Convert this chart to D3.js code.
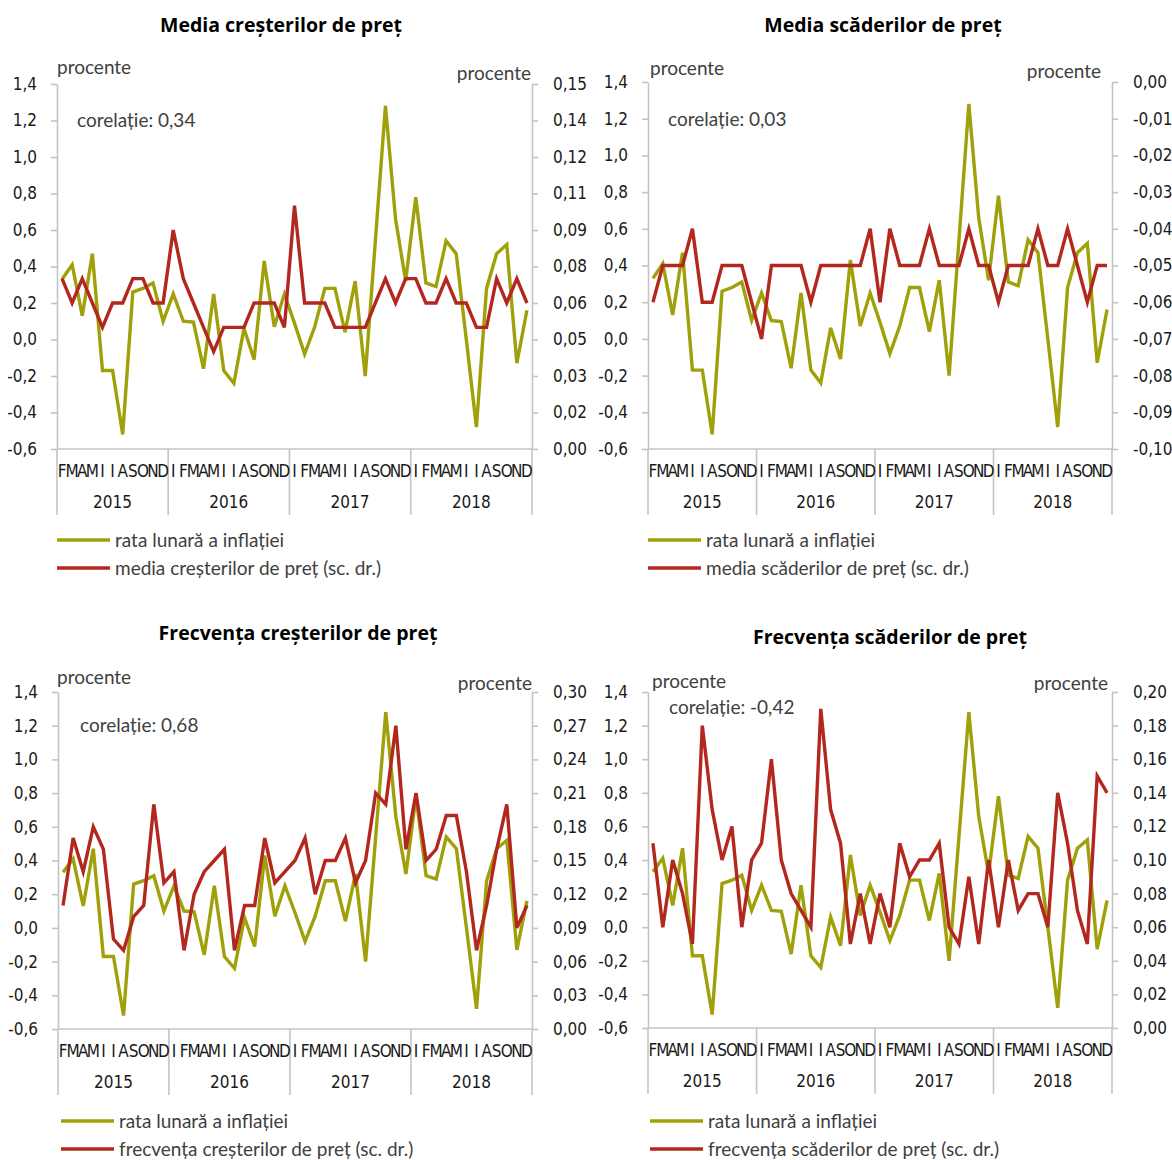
<!DOCTYPE html>
<html>
<head>
<meta charset="utf-8">
<script src="https://cdn.jsdelivr.net/npm/d3@7"></script>
<style>
    body { margin: 0; background: #fff; }
    .cond { font-family: 'Liberation Sans Narrow', 'DejaVu Sans Condensed', sans-serif; }
    .txt { font-family: Lato, 'Open Sans', sans-serif; }
    .ttl { font-family: 'Open Sans', Lato, sans-serif; }
</style>
</head>
<body>
<svg id="chart" width="1172" height="1160"></svg>
<script>
// luni: seria incepe cu februarie 2015
const years = ['2015', '2016', '2017', '2018'];
const monthLetters = ['I', 'F', 'M', 'A', 'M', 'I', 'I', 'A', 'S', 'O', 'N', 'D'];

// rata lunara a inflatiei (scala stanga, procente)
const inflatie = [
    0.33, 0.41, 0.13, 0.47, -0.17, -0.17, -0.52, 0.26, 0.28, 0.31, 0.10,
    0.25, 0.10, 0.095, -0.16, 0.25, -0.17, -0.24, 0.06, -0.11, 0.43, 0.07, 0.25,
    0.09, -0.08, 0.07, 0.28, 0.28, 0.04, 0.32, -0.20, 0.54, 1.28, 0.66, 0.32,
    0.78, 0.31, 0.29, 0.54, 0.47, 0.0, -0.48, 0.28, 0.47, 0.52, -0.13, 0.16
];

// serii pe scala dreapta
const mediaCresteri = [
    0.07, 0.06, 0.07, 0.06, 0.05, 0.06, 0.06, 0.07, 0.07, 0.06, 0.06,
    0.09, 0.07, 0.06, 0.05, 0.04, 0.05, 0.05, 0.05, 0.06, 0.06, 0.06, 0.05,
    0.10, 0.06, 0.06, 0.06, 0.05, 0.05, 0.05, 0.05, 0.06, 0.07, 0.06, 0.07,
    0.07, 0.06, 0.06, 0.07, 0.06, 0.06, 0.05, 0.05, 0.07, 0.06, 0.07, 0.06
];
const mediaScaderi = [
    -0.06, -0.05, -0.05, -0.05, -0.04, -0.06, -0.06, -0.05, -0.05, -0.05, -0.06,
    -0.07, -0.05, -0.05, -0.05, -0.05, -0.06, -0.05, -0.05, -0.05, -0.05, -0.05, -0.04,
    -0.06, -0.04, -0.05, -0.05, -0.05, -0.04, -0.05, -0.05, -0.05, -0.04, -0.05, -0.05,
    -0.06, -0.05, -0.05, -0.05, -0.04, -0.05, -0.05, -0.04, -0.05, -0.06, -0.05, -0.05
];
const frecvCresteri = [
    0.11, 0.17, 0.14, 0.18, 0.16, 0.08, 0.07, 0.10, 0.11, 0.20, 0.13,
    0.14, 0.07, 0.12, 0.14, 0.15, 0.16, 0.07, 0.11, 0.11, 0.17, 0.13, 0.14,
    0.15, 0.17, 0.12, 0.15, 0.15, 0.17, 0.13, 0.15, 0.21, 0.20, 0.27, 0.16,
    0.21, 0.15, 0.16, 0.19, 0.19, 0.14, 0.07, 0.11, 0.16, 0.20, 0.09, 0.11
];
const frecvScaderi = [
    0.11, 0.06, 0.10, 0.08, 0.05, 0.18, 0.13, 0.10, 0.12, 0.06, 0.10,
    0.11, 0.16, 0.10, 0.08, 0.07, 0.06, 0.19, 0.13, 0.11, 0.05, 0.08, 0.05,
    0.08, 0.06, 0.11, 0.09, 0.10, 0.10, 0.11, 0.06, 0.05, 0.09, 0.05, 0.10,
    0.06, 0.10, 0.07, 0.08, 0.08, 0.06, 0.14, 0.11, 0.07, 0.05, 0.15, 0.14
];

// etichete axe
const leftTicks = [-0.6, -0.4, -0.2, 0.0, 0.2, 0.4, 0.6, 0.8, 1.0, 1.2, 1.4];
const leftTickLabels = ['-0,6', '-0,4', '-0,2', '0,0', '0,2', '0,4', '0,6', '0,8', '1,0', '1,2', '1,4'];
const rightLabels1 = ['0,00', '0,02', '0,03', '0,05', '0,06', '0,08', '0,09', '0,11', '0,12', '0,14', '0,15'];
const rightLabels2 = ['-0,10', '-0,09', '-0,08', '-0,07', '-0,06', '-0,05', '-0,04', '-0,03', '-0,02', '-0,01', '0,00'];
const rightLabels3 = ['0,00', '0,03', '0,06', '0,09', '0,12', '0,15', '0,18', '0,21', '0,24', '0,27', '0,30'];
const rightLabels4 = ['0,00', '0,02', '0,04', '0,06', '0,08', '0,10', '0,12', '0,14', '0,16', '0,18', '0,20'];

const months = [];
years.forEach((y, k) => monthLetters.forEach((m, j) => {
    if (k > 0 || j > 0) months.push({ year: y, label: m });
}));

const GREEN = '#a0a00a';
const RED = '#b2281e';
const AXIS = '#c4c4c4';
const svg = d3.select('#chart');

const panels = [
    {
        title: 'Media creșterilor de preț', titleX: 281, titleY: 32,
        left: 57, right: 532, top: 84, bottom: 449,
        rightDomain: [0, 0.15], rightLabels: rightLabels1, series: mediaCresteri,
        corr: 'corelație: 0,34', corrX: 77, corrY: 127,
        procL: [57, 74], procR: [531, 80],
        legend: 'media creșterilor de preț (sc. dr.)', legX: 57, legY: 540
    },
    {
        title: 'Media scăderilor de preț', titleX: 883, titleY: 32,
        left: 648, right: 1112, top: 82, bottom: 449,
        rightDomain: [-0.10, 0], rightLabels: rightLabels2, series: mediaScaderi,
        corr: 'corelație: 0,03', corrX: 668, corrY: 126,
        procL: [650, 75], procR: [1101, 78],
        legend: 'media scăderilor de preț (sc. dr.)', legX: 648, legY: 540
    },
    {
        title: 'Frecvența creșterilor de preț', titleX: 298, titleY: 640,
        left: 58, right: 532, top: 692, bottom: 1029,
        rightDomain: [0, 0.30], rightLabels: rightLabels3, series: frecvCresteri,
        corr: 'corelație: 0,68', corrX: 80, corrY: 732,
        procL: [57, 684], procR: [532, 690],
        legend: 'frecvența creșterilor de preț (sc. dr.)', legX: 61, legY: 1121
    },
    {
        title: 'Frecvența scăderilor de preț', titleX: 890, titleY: 644,
        left: 648, right: 1112, top: 692, bottom: 1028,
        rightDomain: [0, 0.20], rightLabels: rightLabels4, series: frecvScaderi,
        corr: 'corelație: -0,42', corrX: 669, corrY: 714,
        procL: [652, 688], procR: [1108, 690],
        legend: 'frecvența scăderilor de preț (sc. dr.)', legX: 650, legY: 1121
    }
];

function drawPanel(p) {
    const g = svg.append('g');

    const x = d3.scaleBand()
        .domain(d3.range(months.length))
        .range([p.left, p.right]);
    const cx = i => x(i) + x.bandwidth() / 2;
    const yL = d3.scaleLinear().domain([-0.6, 1.4]).range([p.bottom, p.top]);
    const yR = d3.scaleLinear().domain(p.rightDomain).range([p.bottom, p.top]);
    const rStep = (p.rightDomain[1] - p.rightDomain[0]) / 10;
    const rightTicks = d3.range(11).map(k => p.rightDomain[0] + k * rStep);

    // axa stanga
    const axL = g.append('g')
        .attr('transform', `translate(${p.left},0)`)
        .call(d3.axisLeft(yL)
            .tickValues(leftTicks)
            .tickFormat((d, i) => leftTickLabels[i])
            .tickSize(6).tickSizeOuter(0).tickPadding(14));

    // axa dreapta
    const axR = g.append('g')
        .attr('transform', `translate(${p.right},0)`)
        .call(d3.axisRight(yR)
            .tickValues(rightTicks)
            .tickFormat((d, i) => p.rightLabels[i])
            .tickSize(6).tickSizeOuter(0).tickPadding(15));

    [axL, axR].forEach(ax => {
        ax.select('.domain').attr('stroke', AXIS).attr('stroke-width', 1.6);
        ax.selectAll('.tick line').attr('stroke', AXIS).attr('stroke-width', 1.6);
        ax.selectAll('.tick text')
            .attr('class', 'cond')
            .style('font-size', '17px')
            .style('fill', '#1a1a1a');
    });

    // axa orizontala
    g.append('line')
        .attr('x1', p.left).attr('x2', p.right)
        .attr('y1', p.bottom).attr('y2', p.bottom)
        .attr('stroke', AXIS).attr('stroke-width', 1.6);

    // separatori de ani
    const yearStarts = years.map(y => months.findIndex(m => m.year === y));
    const seps = yearStarts.map(i => x(i)).concat([p.right]);
    g.selectAll('.sep')
        .data(seps)
        .enter()
        .append('line')
        .attr('x1', d => d).attr('x2', d => d)
        .attr('y1', p.bottom).attr('y2', p.bottom + 66)
        .attr('stroke', AXIS).attr('stroke-width', 1.6);

    // etichete luni
    g.selectAll('.month')
        .data(months)
        .enter()
        .append('text')
        .attr('class', 'cond')
        .attr('x', (d, i) => cx(i))
        .attr('y', p.bottom + 28)
        .attr('text-anchor', 'middle')
        .style('font-size', '17px')
        .style('fill', '#1a1a1a')
        .text(d => d.label);

    // etichete ani
    g.selectAll('.year')
        .data(years)
        .enter()
        .append('text')
        .attr('class', 'cond')
        .attr('x', (d, k) => (seps[k] + seps[k + 1]) / 2)
        .attr('y', p.bottom + 59)
        .attr('text-anchor', 'middle')
        .style('font-size', '17px')
        .style('fill', '#1a1a1a')
        .text(d => d);

    // linii
    const lineL = d3.line().x((d, i) => cx(i)).y(d => yL(d));
    const lineR = d3.line().x((d, i) => cx(i)).y(d => yR(d));

    g.append('path')
        .datum(inflatie)
        .attr('d', lineL)
        .attr('fill', 'none')
        .attr('stroke', GREEN)
        .attr('stroke-width', 3.4);

    g.append('path')
        .datum(p.series)
        .attr('d', lineR)
        .attr('fill', 'none')
        .attr('stroke', RED)
        .attr('stroke-width', 3.4);

    // titlu
    g.append('text')
        .attr('class', 'ttl')
        .attr('x', p.titleX).attr('y', p.titleY)
        .attr('text-anchor', 'middle')
        .style('font-size', '19.5px')
        .style('font-weight', '700')
        .style('fill', '#000')
        .text(p.title);

    // procente
    g.append('text')
        .attr('class', 'txt')
        .attr('x', p.procL[0]).attr('y', p.procL[1])
        .style('font-size', '19px')
        .style('fill', '#404040')
        .text('procente');
    g.append('text')
        .attr('class', 'txt')
        .attr('x', p.procR[0]).attr('y', p.procR[1])
        .attr('text-anchor', 'end')
        .style('font-size', '19px')
        .style('fill', '#404040')
        .text('procente');

    // corelatie
    g.append('text')
        .attr('class', 'txt')
        .attr('x', p.corrX).attr('y', p.corrY)
        .style('font-size', '19px')
        .style('fill', '#404040')
        .text(p.corr);

    // legenda
    const leg = [
        { label: 'rata lunară a inflației', color: GREEN },
        { label: p.legend, color: RED }
    ];
    const items = g.selectAll('.leg')
        .data(leg)
        .enter()
        .append('g')
        .attr('transform', (d, i) => `translate(${p.legX},${p.legY + i * 28})`);
    items.append('line')
        .attr('x1', 0).attr('x2', 53)
        .attr('stroke', d => d.color)
        .attr('stroke-width', 3.4);
    items.append('text')
        .attr('class', 'txt')
        .attr('x', 58).attr('y', 7)
        .style('font-size', '19px')
        .style('fill', '#404040')
        .text(d => d.label);
}

panels.forEach(drawPanel);
</script>
</body>
</html>
